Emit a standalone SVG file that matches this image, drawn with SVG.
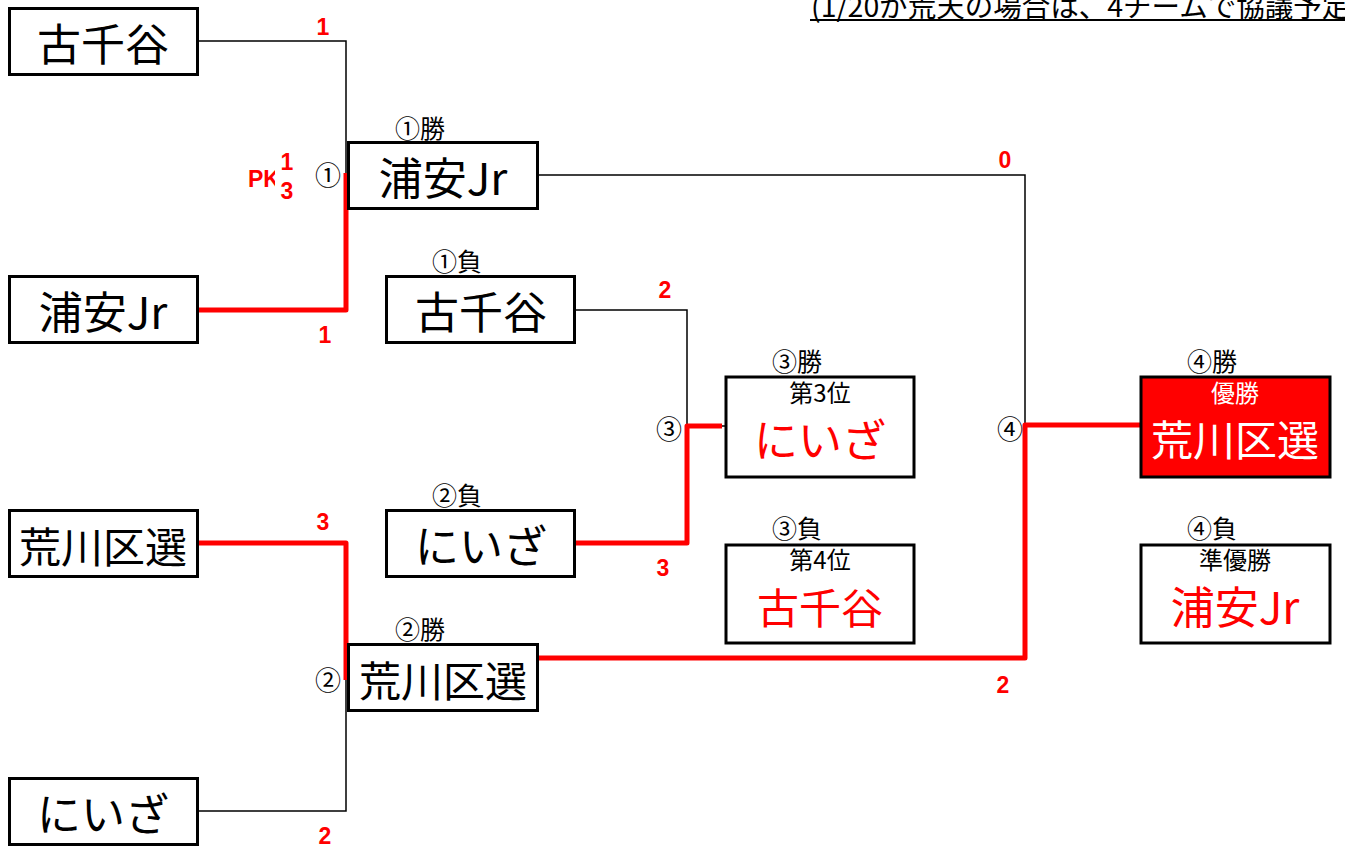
<svg xmlns="http://www.w3.org/2000/svg" width="1345" height="847" viewBox="0 0 1345 847">
<style>
.box{fill:#fff;stroke:#000;stroke-width:3}
.win{fill:#ff0000;stroke:#000;stroke-width:3}
.t{font-family:"Noto Sans CJK JP","Noto Sans",sans-serif;text-anchor:middle;dominant-baseline:central;fill:#000}
.big{font-size:44px}
.mid{font-size:42px}
.sm{font-size:25px}
.in{font-size:24px}
.cn{font-size:26px}
.red{fill:#ff0000}
.wh{fill:#fff}
.sc{font-family:"Liberation Sans",Arial,sans-serif;font-weight:bold;font-size:23px;fill:#ff0000;text-anchor:middle;dominant-baseline:central}
.bl{fill:none;stroke:#000;stroke-width:1.5}
.rl{fill:none;stroke:#ff0000;stroke-width:5;stroke-linejoin:round}
</style>
<defs>
<clipPath id="pkclip"><rect x="240" y="160" width="35" height="40"/></clipPath>
</defs>

<text x="811" y="17" style="font-family:'Noto Sans CJK JP',sans-serif;font-size:28.5px;fill:#000">(1/20が荒天の場合は、4チームで協議予定</text>
<line x1="810" y1="20" x2="1345" y2="20" stroke="#000" stroke-width="2"/>

<g id="connectors">
<polyline class="bl" points="197,41 346,41 346,175"/>
<polyline class="rl" points="197,310 346,310 346,173"/>
<polyline class="bl" points="538,175 1025,175 1025,425"/>
<polyline class="bl" points="575,310 687,310 687,427"/>
<polyline class="rl" points="575,543 687,543 687,426 722,426"/>
<line class="bl" x1="722" y1="426" x2="726" y2="426"/>
<polyline class="rl" points="197,543 346,543 346,680"/>
<polyline class="bl" points="346,680 346,811 197,811"/>
<polyline class="rl" points="538,658 1025,658 1025,425 1140,425"/>
</g>

<g id="n-kochiya-l"><rect class="box" x="9.5" y="8.5" width="188" height="66"/><text class="t big" x="103" y="42">古千谷</text></g>
<g id="n-urayasu-l"><rect class="box" x="9.5" y="276.5" width="188" height="66"/><text class="t big" x="103" y="310">浦安Jr</text></g>
<g id="n-arakawa-l"><rect class="box" x="9.5" y="510.5" width="188" height="66"/><text class="t mid" x="103" y="544">荒川区選</text></g>
<g id="n-niiza-l"><rect class="box" x="9.5" y="778.5" width="188" height="66"/><text class="t big" x="103" y="812">にいざ</text></g>

<g id="n-w1"><text class="t sm" x="420" y="127">①勝</text><rect class="box" x="348.5" y="142.5" width="189" height="66"/><text class="t big" x="443" y="176">浦安Jr</text></g>
<g id="n-l1"><text class="t sm" x="457" y="260">①負</text><rect class="box" x="386.5" y="276.5" width="188" height="66"/><text class="t big" x="481" y="310">古千谷</text></g>
<g id="n-l2"><text class="t sm" x="457" y="494">②負</text><rect class="box" x="386.5" y="510.5" width="188" height="66"/><text class="t big" x="481" y="544">にいざ</text></g>
<g id="n-w2"><text class="t sm" x="420" y="628">②勝</text><rect class="box" x="348.5" y="644.5" width="189" height="66"/><text class="t mid" x="443" y="678">荒川区選</text></g>

<g id="n-w3"><text class="t sm" x="797" y="360">③勝</text><rect class="box" x="726" y="377" width="188" height="100"/><text class="t in" x="820" y="391">第3位</text><text class="t big red" x="820" y="438">にいざ</text></g>
<g id="n-l3"><text class="t sm" x="797" y="527">③負</text><rect class="box" x="726" y="545" width="188" height="98"/><text class="t in" x="820" y="558">第4位</text><text class="t mid red" x="820" y="605">古千谷</text></g>
<g id="n-w4"><text class="t sm" x="1212" y="360">④勝</text><rect class="win" x="1141" y="377" width="189" height="100"/><text class="t in wh" x="1235" y="391">優勝</text><text class="t mid wh" x="1235" y="437">荒川区選</text></g>
<g id="n-l4"><text class="t sm" x="1212" y="527">④負</text><rect class="box" x="1141" y="545" width="189" height="98"/><text class="t in" x="1235" y="558">準優勝</text><text class="t big red" x="1235" y="605">浦安Jr</text></g>

<g id="match-labels">
<text class="t cn" x="328" y="173">①</text>
<text class="t cn" x="328" y="678">②</text>
<text class="t cn" x="669" y="427">③</text>
<text class="t cn" x="1010" y="427">④</text>
</g>

<g id="scores">
<text class="sc" x="323" y="27">1</text>
<text class="sc" x="325" y="335">1</text>
<text class="sc" x="665" y="290">2</text>
<text class="sc" x="663" y="568">3</text>
<text class="sc" x="323" y="522">3</text>
<text class="sc" x="325" y="836">2</text>
<text class="sc" x="1005" y="160">0</text>
<text class="sc" x="1003" y="685">2</text>
<text class="sc" x="264" y="179" clip-path="url(#pkclip)">PK</text>
<text class="sc" x="287" y="162">1</text>
<text class="sc" x="287" y="191">3</text>
</g>
</svg>
